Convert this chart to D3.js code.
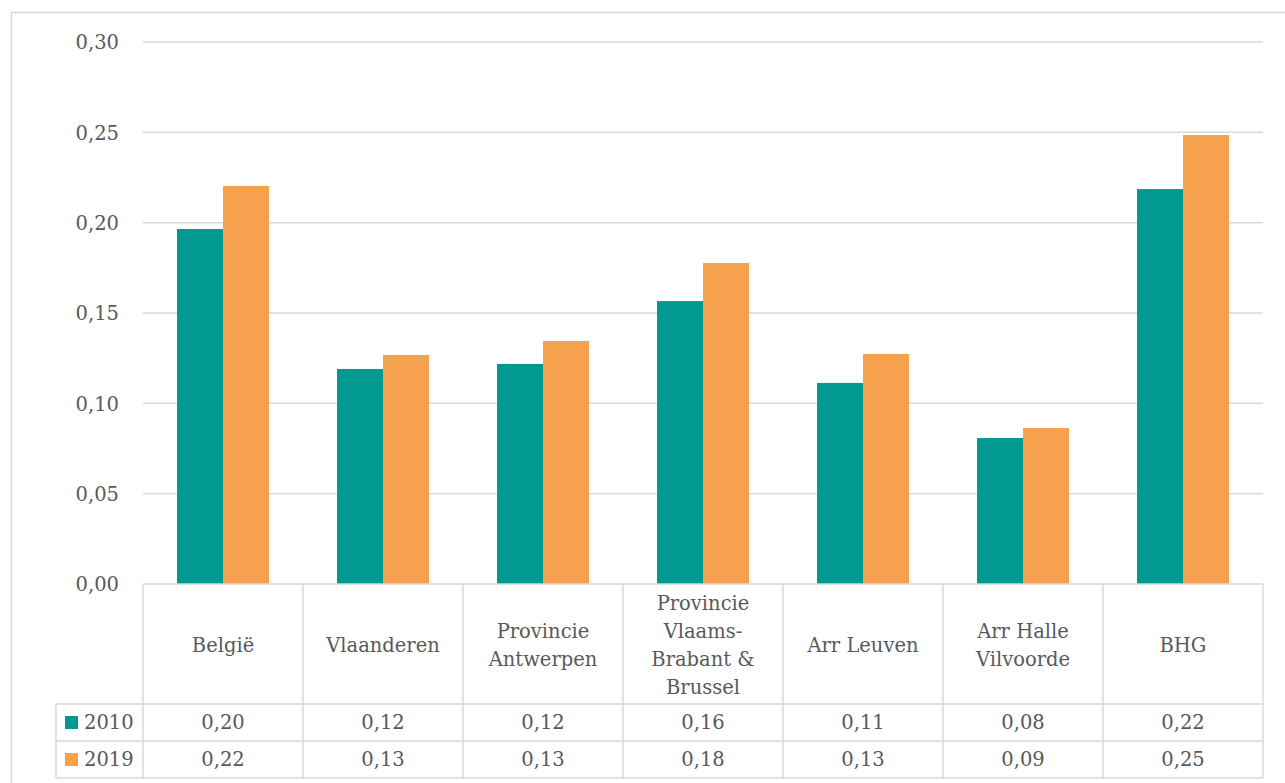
<!DOCTYPE html>
<html>
<head>
<meta charset="utf-8">
<script src="https://cdn.jsdelivr.net/npm/d3@7"></script>
<style>
  html, body { margin: 0; padding: 0; background: #fff; }
  svg { display: block; }
  text { font-family: "DejaVu Serif", "Liberation Serif", serif; fill: #595959; }
</style>
</head>
<body>
<svg id="chart" width="1285" height="783"></svg>
<script>
// Regions shown along the category axis (each entry holds the wrapped label lines)
const categories = [
  ["België"],
  ["Vlaanderen"],
  ["Provincie", "Antwerpen"],
  ["Provincie", "Vlaams-", "Brabant &", "Brussel"],
  ["Arr Leuven"],
  ["Arr Halle", "Vilvoorde"],
  ["BHG"]
];
const seriesNames = ["2010", "2019"];
const values2010 = [0.1965, 0.1190, 0.1218, 0.1566, 0.1113, 0.0808, 0.2186];
const values2019 = [0.2203, 0.1268, 0.1345, 0.1777, 0.1273, 0.0863, 0.2485];
const yTicks = [0, 0.05, 0.10, 0.15, 0.20, 0.25, 0.30];
const colors = ["#009a92", "#f5a14e"];

const seriesValues = [values2010, values2019];

const svg = d3.select("#chart");
const gridColor = "#d9d9d9";

const locale = d3.formatLocale({ decimal: ",", thousands: ".", grouping: [3], currency: ["€", ""] });
const fmt = locale.format(".2f");

const plot = { left: 143, right: 1263, top: 42, bottom: 584 };
const tableRows = { header: 120, row: 37 };
const legendLeft = 56;

// Outer chart frame
svg.append("rect")
  .attr("x", 11.5).attr("y", 12.5)
  .attr("width", 1400).attr("height", 900)
  .attr("fill", "none").attr("stroke", gridColor).attr("stroke-width", 1.5);

const catIdx = categories.map((d, i) => i);
const x0 = d3.scaleBand().domain(catIdx).range([plot.left, plot.right]).paddingInner(0).paddingOuter(0);
const x1 = d3.scaleBand().domain(seriesNames).range([34, x0.bandwidth() - 34]).padding(0);
const y = d3.scaleLinear().domain([0, 0.3]).range([plot.bottom, plot.top]);

// Y axis with horizontal gridlines
const yAxis = d3.axisLeft(y)
  .tickValues(yTicks)
  .tickFormat(fmt)
  .tickSize(0)
  .tickPadding(0);

const gAxis = svg.append("g").attr("transform", `translate(${plot.left},0)`).call(yAxis);
gAxis.select(".domain").remove();
gAxis.selectAll(".tick text")
  .attr("x", -24)
  .attr("dy", "0.35em")
  .style("font-size", "19.5px")
  .style("font-family", "DejaVu Serif, serif")
  .attr("fill", "#595959");

svg.append("g").selectAll("line")
  .data(yTicks.filter(t => t > 0))
  .join("line")
  .attr("x1", plot.left).attr("x2", plot.right)
  .attr("y1", d => y(d)).attr("y2", d => y(d))
  .attr("stroke", gridColor).attr("stroke-width", 1.5);

// Bars
const groups = svg.append("g").selectAll("g")
  .data(catIdx)
  .join("g")
  .attr("transform", i => `translate(${x0(i)},0)`);

groups.selectAll("rect")
  .data(i => seriesNames.map((s, k) => ({ s, k, v: seriesValues[k][i] })))
  .join("rect")
  .attr("x", d => x1(d.s))
  .attr("width", x1.bandwidth())
  .attr("y", d => y(d.v))
  .attr("height", d => y(0) - y(d.v))
  .attr("fill", d => colors[d.k]);

// Data table under the plot
const tableTop = plot.bottom;
const headerBottom = tableTop + tableRows.header;
const tableBottom = headerBottom + tableRows.row * seriesNames.length;
const gTable = svg.append("g");

// horizontal rules
const hLines = [
  { y: tableTop, x1: plot.left, x2: plot.right },
  { y: headerBottom, x1: legendLeft, x2: plot.right },
  ...seriesNames.map((s, k) => ({ y: headerBottom + tableRows.row * (k + 1), x1: legendLeft, x2: plot.right }))
];
gTable.selectAll("line.h")
  .data(hLines)
  .join("line")
  .attr("class", "h")
  .attr("x1", d => d.x1).attr("x2", d => d.x2)
  .attr("y1", d => d.y).attr("y2", d => d.y)
  .attr("stroke", gridColor).attr("stroke-width", 1.5);

// vertical rules
const vLines = [
  { x: legendLeft, y1: headerBottom, y2: tableBottom },
  ...catIdx.map(i => ({ x: x0(i), y1: tableTop, y2: tableBottom })),
  { x: plot.right, y1: tableTop, y2: tableBottom }
];
gTable.selectAll("line.v")
  .data(vLines)
  .join("line")
  .attr("class", "v")
  .attr("x1", d => d.x).attr("x2", d => d.x)
  .attr("y1", d => d.y1).attr("y2", d => d.y2)
  .attr("stroke", gridColor).attr("stroke-width", 1.5);

// category header labels
const lineH = 28;
const headerMid = tableTop + tableRows.header / 2 + 1;
gTable.selectAll("text.cat")
  .data(catIdx)
  .join("text")
  .attr("class", "cat")
  .attr("text-anchor", "middle")
  .style("font-size", "19.5px")
  .each(function (i) {
    const lines = categories[i];
    const t = d3.select(this);
    lines.forEach((ln, j) => {
      t.append("tspan")
        .attr("x", x0(i) + x0.bandwidth() / 2)
        .attr("y", headerMid + (j - (lines.length - 1) / 2) * lineH)
        .attr("dy", "0.35em")
        .text(ln);
    });
  });

// series rows: legend key + values
seriesNames.forEach((s, k) => {
  const rowMid = headerBottom + tableRows.row * k + tableRows.row / 2;
  gTable.append("rect")
    .attr("x", 65).attr("y", rowMid - 6.5)
    .attr("width", 13).attr("height", 13)
    .attr("fill", colors[k]);
  gTable.append("text")
    .attr("x", 84).attr("y", rowMid)
    .attr("dy", "0.35em")
    .style("font-size", "19.5px")
    .text(s);
  gTable.selectAll(null)
    .data(seriesValues[k])
    .join("text")
    .attr("text-anchor", "middle")
    .attr("x", (v, i) => x0(i) + x0.bandwidth() / 2)
    .attr("y", rowMid)
    .attr("dy", "0.35em")
    .style("font-size", "19.5px")
    .text(v => fmt(v));
});
</script>
</body>
</html>
